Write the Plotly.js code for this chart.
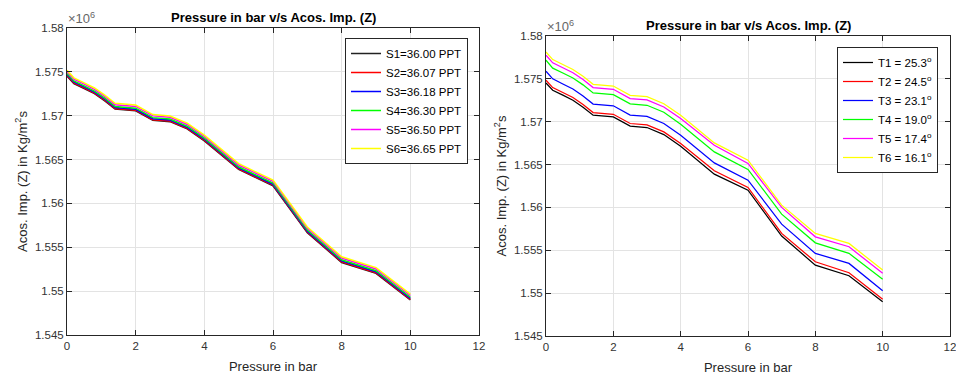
<!DOCTYPE html>
<html>
<head>
<meta charset="utf-8">
<script src="https://cdn.plot.ly/plotly-3.0.1.min.js"></script>
<style>
html,body{margin:0;padding:0;background:#fff;}
#chart{width:956px;height:376px;}
</style>
</head>
<body>
<div id="chart"></div>
<script>
// Pressure in bar (x values shared by all series)
const pressure = [0, 0.2, 0.5, 0.8, 1.1, 1.4, 2, 2.5, 3, 3.5, 4, 5, 6, 7, 8, 9, 10];

// Left panel: salinity series (values in units of 1e6 Kg/m^2 s)
const salinityLabels = ["S1=36.00 PPT", "S2=36.07 PPT", "S3=36.18 PPT", "S4=36.30 PPT", "S5=36.50 PPT", "S6=36.65 PPT"];
const S1 = [1.57452, 1.57367, 1.57310, 1.57251, 1.57170, 1.57076, 1.57056, 1.56948, 1.56932, 1.56850, 1.56714, 1.56388, 1.56201, 1.55666, 1.55327, 1.55203, 1.54900];
const S2 = [1.57459, 1.57374, 1.57317, 1.57258, 1.57177, 1.57083, 1.57063, 1.56955, 1.56939, 1.56857, 1.56721, 1.56395, 1.56208, 1.55673, 1.55334, 1.55210, 1.54907];
const S3 = [1.57470, 1.57385, 1.57328, 1.57269, 1.57188, 1.57094, 1.57074, 1.56966, 1.56950, 1.56868, 1.56732, 1.56406, 1.56219, 1.55684, 1.55345, 1.55221, 1.54918];
const S4 = [1.57482, 1.57397, 1.57340, 1.57281, 1.57200, 1.57106, 1.57086, 1.56978, 1.56962, 1.56880, 1.56744, 1.56418, 1.56231, 1.55696, 1.55357, 1.55233, 1.54930];
const S5 = [1.57502, 1.57417, 1.57360, 1.57301, 1.57220, 1.57126, 1.57106, 1.56998, 1.56982, 1.56900, 1.56764, 1.56438, 1.56251, 1.55716, 1.55377, 1.55253, 1.54950];
const S6 = [1.57517, 1.57432, 1.57375, 1.57316, 1.57235, 1.57141, 1.57121, 1.57013, 1.56997, 1.56915, 1.56779, 1.56453, 1.56266, 1.55731, 1.55392, 1.55268, 1.54965];

// Right panel: temperature series
const tempLabels = ["T1 = 25.3<sup>o</sup>", "T2 = 24.5<sup>o</sup>", "T3 = 23.1<sup>o</sup>", "T4 = 19.0<sup>o</sup>", "T5 = 17.4<sup>o</sup>", "T6 = 16.1<sup>o</sup>"];
const T1 = [1.57452, 1.57367, 1.57310, 1.57251, 1.57170, 1.57076, 1.57056, 1.56948, 1.56932, 1.56850, 1.56714, 1.56388, 1.56201, 1.55666, 1.55327, 1.55203, 1.54900];
const T2 = [1.57484, 1.57398, 1.57341, 1.57282, 1.57201, 1.57107, 1.57087, 1.56979, 1.56963, 1.56881, 1.56746, 1.56427, 1.56233, 1.55697, 1.55366, 1.55238, 1.54928];
const T3 = [1.57589, 1.57500, 1.57440, 1.57381, 1.57300, 1.57206, 1.57186, 1.57078, 1.57062, 1.56980, 1.56843, 1.56520, 1.56318, 1.55805, 1.55464, 1.55347, 1.55028];
const T4 = [1.57717, 1.57625, 1.57568, 1.57510, 1.57430, 1.57336, 1.57316, 1.57208, 1.57192, 1.57110, 1.56971, 1.56648, 1.56443, 1.55922, 1.55587, 1.55464, 1.55161];
const T5 = [1.57775, 1.57687, 1.57630, 1.57572, 1.57492, 1.57398, 1.57378, 1.57270, 1.57254, 1.57172, 1.57037, 1.56726, 1.56513, 1.56000, 1.55657, 1.55541, 1.55231];
const T6 = [1.57814, 1.57725, 1.57668, 1.57610, 1.57530, 1.57436, 1.57416, 1.57308, 1.57292, 1.57210, 1.57076, 1.56753, 1.56551, 1.56027, 1.55697, 1.55580, 1.55269];

// Axis ticks
const xTickVals = [0, 2, 4, 6, 8, 10, 12];
const xTickText = ["0", "2", "4", "6", "8", "10", "12"];
const yTickVals = [1.545, 1.55, 1.555, 1.56, 1.565, 1.57, 1.575, 1.58];
const yTickText = ["1.545", "1.55", "1.555", "1.56", "1.565", "1.57", "1.575", "1.58"];

const colors = ["#000000", "#ff0000", "#0000ff", "#00ff00", "#ff00ff", "#ffff00"];
const leftSeries = [S1, S2, S3, S4, S5, S6];
const rightSeries = [T1, T2, T3, T4, T5, T6];

const traces = [];
leftSeries.forEach((ys, i) => {
  traces.push({
    x: pressure, y: ys, type: 'scatter', mode: 'lines',
    name: salinityLabels[i], xaxis: 'x', yaxis: 'y', legend: 'legend',
    line: {color: i === 0 ? '#222222' : colors[i], width: 1.5}
  });
});
rightSeries.forEach((ys, i) => {
  traces.push({
    x: pressure, y: ys, type: 'scatter', mode: 'lines',
    name: tempLabels[i], xaxis: 'x2', yaxis: 'y2', legend: 'legend2',
    line: {color: colors[i], width: 1.25}
  });
});

const W = 956, H = 376;
const fontFam = 'Liberation Sans, Arial, Helvetica, sans-serif';
const axisCommon = {
  showline: true, linecolor: '#262626', linewidth: 1, mirror: 'ticks',
  ticks: 'inside', ticklen: 5, tickcolor: '#262626', tickwidth: 1,
  showgrid: true, gridcolor: '#e3e3e3', gridwidth: 1, zeroline: false,
  tickfont: {family: fontFam, size: 11.5, color: '#333333'},
  automargin: false, tickmode: 'array', ticklabeloverflow: 'allow'
};
function xAxis(domain) {
  return Object.assign({}, axisCommon, {
    domain: domain, range: [0, 12], tickvals: xTickVals, ticktext: xTickText,
    title: {text: 'Pressure in bar', font: {family: fontFam, size: 13, color: '#262626'}, standoff: 11}
  });
}
function yAxis(domain, anchor) {
  return Object.assign({}, axisCommon, {
    domain: domain, range: [1.545, 1.58], tickvals: yTickVals, ticktext: yTickText, anchor: anchor,
    title: {text: 'Acos. Imp. (Z) in Kg/m<sup>2</sup>s', font: {family: fontFam, size: 13, color: '#262626'}, standoff: 4}
  });
}

const leftX = [67 / W, 479 / W];
const rightX = [546 / W, 950 / W];
const leftY = [(H - 335) / H, (H - 28) / H];
const rightY = [(H - 336) / H, (H - 36) / H];

const legendCommon = {
  bgcolor: '#ffffff', bordercolor: '#262626', borderwidth: 1,
  font: {family: fontFam, size: 11.5, color: '#000000'},
  xanchor: 'right', yanchor: 'top', xref: 'paper', yref: 'paper',
  itemwidth: 30, tracegroupgap: 0
};

const layout = {
  width: W, height: H,
  margin: {l: 0, r: 0, t: 0, b: 0},
  paper_bgcolor: '#ffffff', plot_bgcolor: '#ffffff',
  showlegend: true,
  xaxis: Object.assign(xAxis(leftX), {anchor: 'y'}),
  yaxis: yAxis(leftY, 'x'),
  xaxis2: Object.assign(xAxis(rightX), {anchor: 'y2'}),
  yaxis2: yAxis(rightY, 'x2'),
  legend: Object.assign({}, legendCommon, {x: 468 / W, y: (H - 38) / H}),
  legend2: Object.assign({}, legendCommon, {x: 938 / W, y: (H - 47) / H}),
  annotations: [
    {text: '<b>Pressure in bar v/s Acos. Imp. (Z)</b>', xref: 'paper', yref: 'paper',
     x: (67 + 479) / 2 / W, y: (H - 17) / H, xanchor: 'center', yanchor: 'middle', showarrow: false,
     font: {family: fontFam, size: 13, color: '#000000'}},
    {text: '<b>Pressure in bar v/s Acos. Imp. (Z)</b>', xref: 'paper', yref: 'paper',
     x: (546 + 950) / 2 / W, y: (H - 25) / H, xanchor: 'center', yanchor: 'middle', showarrow: false,
     font: {family: fontFam, size: 13, color: '#000000'}},
    {text: '\u00d710<sup>6</sup>', xref: 'paper', yref: 'paper',
     x: 66 / W, y: (H - 28) / H, xanchor: 'left', yanchor: 'bottom', showarrow: false,
     font: {family: fontFam, size: 13, color: '#666666'}},
    {text: '\u00d710<sup>6</sup>', xref: 'paper', yref: 'paper',
     x: 545 / W, y: (H - 36) / H, xanchor: 'left', yanchor: 'bottom', showarrow: false,
     font: {family: fontFam, size: 13, color: '#666666'}}
  ]
};

Plotly.newPlot('chart', traces, layout, {staticPlot: true, displayModeBar: false});
</script>
</body>
</html>
